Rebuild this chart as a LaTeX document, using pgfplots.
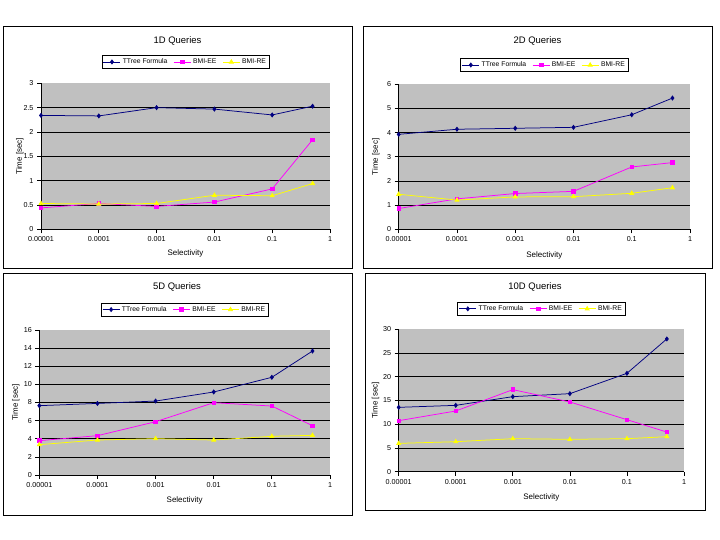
\documentclass[border=0pt]{standalone}
\usepackage{fontspec}
\setmainfont{Liberation Sans}
\usepackage{pgfplots}
\pgfplotsset{compat=1.18}

\definecolor{ttree}{HTML}{000080}
\definecolor{bmiee}{HTML}{FF00FF}
\definecolor{bmire}{HTML}{FFFF00}
\definecolor{plotbg}{HTML}{C0C0C0}

\pgfplotsset{
 every axis/.append style={
  scale only axis,
  xmode=log, xmin=1e-5, xmax=1,
  xtick={1e-5,1e-4,1e-3,1e-2,1e-1,1},
  xticklabels={0.00001,0.0001,0.001,0.01,0.1,1},
  xminorticks=false,
  axis x line*=bottom, axis y line*=left,
  axis line style={black, line width=0.75bp},
  tick style={black, line width=0.75bp},
  tick align=outside, major tick length=4bp,
  axis background/.style={fill=plotbg},
  /pgf/number format/assume math mode=true,
  tick label style={font=\fontsize{7.2}{8}\selectfont},
  label style={font=\fontsize{8}{9}\selectfont},
  xlabel={Selectivity}, ylabel={Time [sec]},
  legend columns=3,
  legend style={font=\fontsize{6.8}{7.5}\selectfont, draw=black, line width=0.75bp,
    inner sep=1.2bp, anchor=center,
    /tikz/every even column/.append style={column sep=4bp}},
  legend cell align=left,
  extra y tick labels={},
  extra y tick style={grid=major, major tick length=0pt},
  grid style={black, line width=0.75bp},
  ymin=0,
 },
 serA/.style={color=ttree, line width=0.75bp, mark=diamond*, mark size=2bp, mark options={solid, fill=ttree}},
 serB/.style={color=bmiee, line width=0.75bp, mark=square*, mark size=1.8bp, mark options={solid, fill=bmiee}},
 serC/.style={color=bmire, line width=0.75bp, mark=triangle*, mark size=2.3bp, mark options={solid, fill=bmire}},
}

\begin{document}
\begin{tikzpicture}
\path[use as bounding box] (0,0) rectangle (720bp,-540bp);
\fill[white] (0,0) rectangle (720bp,-540bp);

\draw[line width=0.75bp] (3bp,-26.7bp) rectangle (352bp,-268bp);
\draw[line width=0.75bp] (363bp,-26.7bp) rectangle (712bp,-268bp);
\draw[line width=0.75bp] (3bp,-273.3bp) rectangle (352bp,-515bp);
\draw[line width=0.75bp] (365bp,-273.3bp) rectangle (705bp,-510.7bp);

\node[font=\fontsize{9.5}{10}\selectfont] at (177.5bp,-40.7bp) {1D Queries};
\node[font=\fontsize{9.5}{10}\selectfont] at (537.5bp,-40.7bp) {2D Queries};
\node[font=\fontsize{9.5}{10}\selectfont] at (177bp,-286.7bp) {5D Queries};
\node[font=\fontsize{9.5}{10}\selectfont] at (535bp,-286.7bp) {10D Queries};

% 1D
\begin{axis}[at={(41bp,-229.3bp)}, anchor=south west,
  width=289bp, height=146bp, ymax=3,
  ytick={0,0.5,1,1.5,2,2.5,3}, extra y ticks={0.5,1,1.5,2,2.5},
  legend style={at={(0.5,1.146)}},
  xlabel style={at={(axis description cs:0.5,-0.164)}, anchor=center},
  ylabel style={at={(axis description cs:-0.073,0.5)}, anchor=center}]
\addplot[serA] coordinates {(1e-5,2.34) (1e-4,2.33) (1e-3,2.50) (1e-2,2.47) (1e-1,2.35) (0.5,2.53)};
\addplot[serB] coordinates {(1e-5,0.44) (1e-4,0.53) (1e-3,0.47) (1e-2,0.56) (1e-1,0.83) (0.5,1.84)};
\addplot[serC] coordinates {(1e-5,0.53) (1e-4,0.52) (1e-3,0.53) (1e-2,0.70) (1e-1,0.69) (0.5,0.94)};
\legend{TTree Formula, BMI-EE, BMI-RE}
\end{axis}

% 2D
\begin{axis}[at={(398.7bp,-229.3bp)}, anchor=south west,
  width=291.3bp, height=145bp, ymax=6,
  ytick={0,1,2,3,4,5,6}, extra y ticks={1,2,3,4,5},
  legend style={at={(0.5,1.133)}},
  xlabel style={at={(axis description cs:0.5,-0.177)}, anchor=center},
  ylabel style={at={(axis description cs:-0.079,0.5)}, anchor=center}]
\addplot[serA] coordinates {(1e-5,3.93) (1e-4,4.14) (1e-3,4.18) (1e-2,4.22) (1e-1,4.74) (0.5,5.43)};
\addplot[serB] coordinates {(1e-5,0.86) (1e-4,1.26) (1e-3,1.48) (1e-2,1.57) (1e-1,2.58) (0.5,2.76)};
\addplot[serC] coordinates {(1e-5,1.45) (1e-4,1.21) (1e-3,1.34) (1e-2,1.35) (1e-1,1.49) (0.5,1.72)};
\legend{TTree Formula, BMI-EE, BMI-RE}
\end{axis}

% 5D
\begin{axis}[at={(39.3bp,-475bp)}, anchor=south west,
  width=290.7bp, height=145bp, ymax=16,
  ytick={0,2,4,6,8,10,12,14,16}, extra y ticks={2,4,6,8,10,12,14},
  legend style={at={(0.5,1.141)}},
  xlabel style={at={(axis description cs:0.5,-0.172)}, anchor=center},
  ylabel style={at={(axis description cs:-0.081,0.5)}, anchor=center}]
\addplot[serA] coordinates {(1e-5,7.65) (1e-4,7.90) (1e-3,8.16) (1e-2,9.16) (1e-1,10.78) (0.5,13.68)};
\addplot[serB] coordinates {(1e-5,3.79) (1e-4,4.34) (1e-3,5.88) (1e-2,7.98) (1e-1,7.61) (0.5,5.44)};
\addplot[serC] coordinates {(1e-5,3.35) (1e-4,3.86) (1e-3,4.01) (1e-2,3.86) (1e-1,4.27) (0.5,4.38)};
\legend{TTree Formula, BMI-EE, BMI-RE}
\end{axis}

% 10D
\begin{axis}[at={(398.7bp,-471.7bp)}, anchor=south west,
  width=285.3bp, height=142.4bp, ymax=30,
  ytick={0,5,10,15,20,25,30}, extra y ticks={5,10,15,20,25},
  legend style={at={(0.5,1.144)}},
  xlabel style={at={(axis description cs:0.5,-0.183)}, anchor=center},
  ylabel style={at={(axis description cs:-0.081,0.5)}, anchor=center}]
\addplot[serA] coordinates {(1e-5,13.56) (1e-4,13.98) (1e-3,15.81) (1e-2,16.44) (1e-1,20.73) (0.5,27.97)};
\addplot[serB] coordinates {(1e-5,10.75) (1e-4,12.79) (1e-3,17.29) (1e-2,14.69) (1e-1,10.96) (0.5,8.36)};
\addplot[serC] coordinates {(1e-5,5.97) (1e-4,6.32) (1e-3,6.96) (1e-2,6.82) (1e-1,6.96) (0.5,7.38)};
\legend{TTree Formula, BMI-EE, BMI-RE}
\end{axis}
\end{tikzpicture}
\end{document}
